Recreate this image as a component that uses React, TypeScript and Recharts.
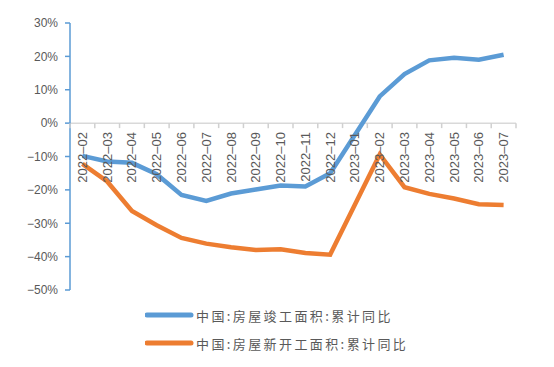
import { LineChart, Line, XAxis, YAxis, ReferenceLine } from "recharts";

const categories = [
    "2022-02", "2022-03", "2022-04", "2022-05", "2022-06", "2022-07",
    "2022-08", "2022-09", "2022-10", "2022-11", "2022-12", "2023-01",
    "2023-02", "2023-03", "2023-04", "2023-05", "2023-06", "2023-07",
];

// 2023-01 has no monthly release, the line is joined across it
const completedYoY = [-9.8, -11.5, -11.9, -15.3, -21.5, -23.3, -21.1, -19.9, -18.7, -19.0, -15.0, null, 8.0, 14.7, 18.8, 19.6, 19.0, 20.5];
const newStartsYoY = [-12.2, -17.5, -26.3, -30.6, -34.4, -36.1, -37.2, -38.0, -37.8, -38.9, -39.4, null, -9.4, -19.2, -21.2, -22.6, -24.3, -24.5];

const yTicks = [-50, -40, -30, -20, -10, 0, 10, 20, 30];

const seriesNames = ["中国:房屋竣工面积:累计同比", "中国:房屋新开工面积:累计同比"];

const BLUE = "#5B9BD5";
const ORANGE = "#ED7D31";
const GRAY = "#595959";

const W = 554;
const H = 367;
const MARGIN = { top: 23, right: 38, bottom: 76, left: 0 };
const Y_AXIS_W = 70;
const PLOT_W = W - MARGIN.left - MARGIN.right - Y_AXIS_W;
const PLOT_H = H - MARGIN.top - MARGIN.bottom - 1;
const BAND = PLOT_W / categories.length;
const Y_MIN = -50;
const Y_MAX = 30;
const ZERO_Y = MARGIN.top + (PLOT_H * Y_MAX) / (Y_MAX - Y_MIN);

const chartData = categories.map((month, i) => ({
    month,
    completed: completedYoY[i],
    newStarts: newStartsYoY[i],
}));

const fmtPct = (v: number) => `${v < 0 ? "\u2212" + Math.abs(v) : v}%`;

// x labels sit on the 0% line, like the Excel original
const MonthTick = ({ x, payload, index }: any) => {
    const last = index === categories.length - 1;
    return (
        <g>
            <line x1={x - BAND / 2} x2={x - BAND / 2} y1={ZERO_Y} y2={ZERO_Y + 5} stroke="#d0d0d0" strokeWidth={1.5} />
            {last && (
                <line x1={x + BAND / 2} x2={x + BAND / 2} y1={ZERO_Y} y2={ZERO_Y + 5} stroke="#d0d0d0" strokeWidth={1.5} />
            )}
            <text
                x={0}
                y={0}
                transform={`translate(${x + 4.5},${ZERO_Y + 9}) rotate(-90)`}
                textAnchor="end"
                fill={GRAY}
                fontSize={13}
                fontFamily="'Liberation Sans', Arial, sans-serif"
            >
                {payload.value.replace("-", "\u2013")}
            </text>
        </g>
    );
};

const LegendBox = () => (
    <div
        style={{
            position: "absolute",
            left: 145,
            top: 301,
            fontFamily: "'Noto Sans CJK SC', sans-serif",
            fontSize: 13,
            color: GRAY,
        }}
    >
        {seriesNames.map((name, i) => (
            <div key={name} style={{ display: "flex", alignItems: "center", height: 28 }}>
                <svg width={51} height={10}>
                    <line x1={2} x2={46} y1={5} y2={5} stroke={i === 0 ? BLUE : ORANGE} strokeWidth={5} strokeLinecap="round" />
                </svg>
                <span style={{ letterSpacing: 2.4, whiteSpace: "nowrap" }}>{name}</span>
            </div>
        ))}
    </div>
);

export default function App() {
    return (
        <div style={{ position: "absolute", left: 0, top: 0, width: W, height: H, background: "#fff" }}>
            <LineChart width={W} height={H} data={chartData} margin={MARGIN}>
                <XAxis
                    dataKey="month"
                    height={1}
                    axisLine={false}
                    tickLine={false}
                    interval={0}
                    padding={{ left: BAND / 2, right: BAND / 2 }}
                    tick={<MonthTick />}
                />
                <YAxis
                    width={Y_AXIS_W}
                    domain={[Y_MIN, Y_MAX]}
                    ticks={yTicks}
                    tickFormatter={fmtPct}
                    axisLine={{ stroke: BLUE, strokeWidth: 1.5 }}
                    tickLine={{ stroke: BLUE, strokeWidth: 1.5 }}
                    tickSize={5}
                    tickMargin={7}
                    tick={{ fill: GRAY, fontSize: 12, fontFamily: "'Liberation Sans', Arial, sans-serif" }}
                />
                <ReferenceLine y={0} stroke="#d9d9d9" strokeWidth={1.5} />
                <Line
                    type="linear"
                    dataKey="completed"
                    name={seriesNames[0]}
                    stroke={BLUE}
                    strokeWidth={4.5}
                    dot={false}
                    connectNulls
                    isAnimationActive={false}
                />
                <Line
                    type="linear"
                    dataKey="newStarts"
                    name={seriesNames[1]}
                    stroke={ORANGE}
                    strokeWidth={4.5}
                    dot={false}
                    connectNulls
                    isAnimationActive={false}
                />
            </LineChart>
            <LegendBox />
        </div>
    );
}
